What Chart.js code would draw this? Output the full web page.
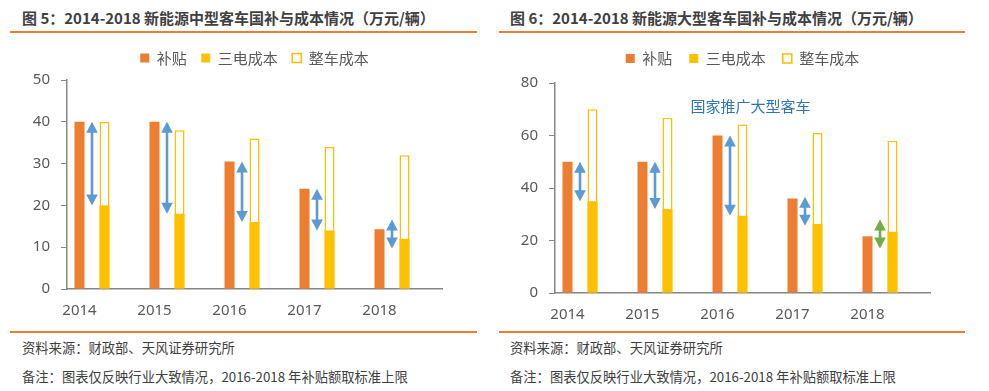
<!DOCTYPE html>
<html>
<head>
<meta charset="utf-8">
<script src="https://cdn.jsdelivr.net/npm/chart.js@4/dist/chart.umd.min.js"></script>
<style>
body { margin: 0; background: #fff; width: 989px; height: 391px; position: relative; overflow: hidden;
  font-family: "Noto Sans CJK SC", "Noto Sans", sans-serif; }
.title { position: absolute; top: 8px; font-size: 15px; font-weight: bold; color: #404040; line-height: 20px; white-space: nowrap; }
.rule { position: absolute; height: 2px; background: #ED7D31; }
.note { position: absolute; font-size: 13.3px; color: #404040; line-height: 18px; white-space: nowrap; }
canvas { position: absolute; }
</style>
</head>
<body>
<div class="title" style="left:22px">图 5：2014-2018 新能源中型客车国补与成本情况（万元/辆）</div>
<div class="rule" style="left:10px;width:467px;top:31px"></div>
<canvas id="graficoMedio" width="490" height="284" style="left:0;top:36px"></canvas>
<div class="rule" style="left:10px;width:467px;top:331px"></div>
<div class="note" style="left:22px;top:339px">资料来源：财政部、天风证券研究所</div>
<div class="note" style="left:22px;top:368px">备注：图表仅反映行业大致情况，2016-2018 年补贴额取标准上限</div>

<div class="title" style="left:510px">图 6：2014-2018 新能源大型客车国补与成本情况（万元/辆）</div>
<div class="rule" style="left:499px;width:466px;top:31px"></div>
<canvas id="graficoGrande" width="494" height="290" style="left:495px;top:34px"></canvas>
<div class="rule" style="left:499px;width:466px;top:331px"></div>
<div class="note" style="left:510px;top:339px">资料来源：财政部、天风证券研究所</div>
<div class="note" style="left:510px;top:368px">备注：图表仅反映行业大致情况，2016-2018 年补贴额取标准上限</div>

<script>
// dados (万元/辆)
const anos = ['2014', '2015', '2016', '2017', '2018']
const nomes = ['补贴', '三电成本', '整车成本']

const medioSubsidio = [40, 40, 30.5, 24, 14.3]
const medioBateria = [20, 18, 16, 14, 12]
const medioVeiculo = [40, 38, 36, 34, 32]

const grandeSubsidio = [50, 50, 60, 36, 21.6]
const grandeBateria = [35, 32, 29.4, 26.3, 23.3]
const grandeVeiculo = [70, 66.8, 64.2, 61, 58]

const notaGrande = '国家推广大型客车'

const cinza = '#868686'
const textoCor = '#595959'

// setas entre o topo do subsidio e o topo da bateria
const setas = {
    id: 'setas',
    afterDatasetsDraw(chart) {
        const ctx = chart.ctx
        const barrasA = chart.getDatasetMeta(0).data
        const barrasB = chart.getDatasetMeta(1).data
        const subs = chart.data.datasets[0].data
        const bat = chart.data.datasets[1].data
        barrasA.forEach((a, i) => {
            const b = barrasB[i]
            const x = (a.x + b.x) / 2
            let topo = Math.min(a.y, b.y)
            let base = Math.max(a.y, b.y)
            if (base - topo < 29) {
                const meio = (topo + base) / 2
                topo = meio - 14.5
                base = meio + 14.5
            }
            const cor = subs[i] < bat[i] ? '#70AD47' : '#5B9BD5'
            ctx.save()
            ctx.strokeStyle = cor
            ctx.fillStyle = cor
            ctx.lineWidth = 2.6
            ctx.beginPath()
            ctx.moveTo(x, topo + 10)
            ctx.lineTo(x, base - 10)
            ctx.stroke()
            ctx.beginPath()
            ctx.moveTo(x, topo)
            ctx.lineTo(x - 5.8, topo + 11)
            ctx.lineTo(x + 5.8, topo + 11)
            ctx.closePath()
            ctx.fill()
            ctx.beginPath()
            ctx.moveTo(x, base)
            ctx.lineTo(x - 5.8, base - 11)
            ctx.lineTo(x + 5.8, base - 11)
            ctx.closePath()
            ctx.fill()
            ctx.restore()
        })
    }
}

const textoNota = {
    id: 'textoNota',
    afterDraw(chart, args, opts) {
        if (!opts.texto) return
        const ctx = chart.ctx
        const x = chart.scales.x.getPixelForValue(2) + 8
        const y = chart.scales.y.getPixelForValue(71)
        ctx.save()
        ctx.font = '15px "Noto Sans CJK SC"'
        ctx.fillStyle = '#2E75B6'
        ctx.textAlign = 'center'
        ctx.textBaseline = 'middle'
        ctx.fillText(opts.texto, x, y)
        ctx.restore()
    }
}

// altura fixa da legenda
const alturaLegenda = {
    id: 'alturaLegenda',
    beforeInit(chart, args, opts) {
        const fitOriginal = chart.legend.fit
        chart.legend.fit = function() {
            fitOriginal.call(this)
            this.height = opts.altura
        }
    }
}

function criarGrafico(id, subsidio, bateria, veiculo, maximo, passo, larguraY, direita, legPad, legAltura, nota) {
    const ctx = document.getElementById(id).getContext('2d')
    return new Chart(ctx, {
        type: 'bar',
        data: {
            labels: anos,
            datasets: [
                {
                    label: nomes[0],
                    data: subsidio,
                    stack: 'a',
                    backgroundColor: '#ED7D31',
                    borderWidth: 0
                },
                {
                    label: nomes[1],
                    data: bateria,
                    stack: 'b',
                    backgroundColor: '#FFC000',
                    borderWidth: 0
                },
                {
                    label: nomes[2],
                    data: veiculo,
                    stack: 'b',
                    backgroundColor: '#FFFFFF',
                    borderColor: '#FFC000',
                    borderWidth: 1.6,
                    borderSkipped: false
                },
                {
                    label: '',
                    data: [],
                    stack: 'c'
                }
            ]
        },
        options: {
            responsive: false,
            maintainAspectRatio: false,
            animation: false,
            layout: { padding: { left: 0, right: direita, top: 0, bottom: 0 } },
            datasets: { bar: { categoryPercentage: 1, barPercentage: 0.4 } },
            plugins: {
                tooltip: { enabled: false },
                textoNota: { texto: nota },
                alturaLegenda: { altura: legAltura },
                legend: {
                    position: 'top',
                    fullSize: false,
                    labels: {
                        boxWidth: 9,
                        boxHeight: 9,
                        padding: legPad,
                        color: textoCor,
                        font: { size: 15, family: '"Noto Sans CJK SC"' },
                        filter: item => item.text !== ''
                    }
                }
            },
            scales: {
                x: {
                    afterFit: (escala) => { escala.height = 31 },
                    grid: { display: false, drawTicks: false },
                    border: { display: true, color: cinza, width: 1.5 },
                    ticks: {
                        color: textoCor,
                        padding: 13,
                        labelOffset: -25,
                        maxRotation: 0,
                        font: { size: 15, family: '"Noto Sans"' }
                    }
                },
                y: {
                    stacked: false,
                    min: 0,
                    max: maximo,
                    afterFit: (escala) => { escala.width = larguraY },
                    grid: { display: true, drawOnChartArea: false, drawTicks: true, tickLength: 6, color: cinza, lineWidth: 1 },
                    border: { display: true, color: cinza, width: 1.5 },
                    ticks: {
                        stepSize: passo,
                        color: textoCor,
                        padding: 11,
                        font: { size: 15, family: '"Noto Sans"' }
                    }
                }
            }
        },
        plugins: [setas, textoNota, alturaLegenda]
    })
}

var graficoMedio = criarGrafico('graficoMedio', medioSubsidio, medioBateria, medioVeiculo, 50, 10, 67, 48, 14.5, 44, '')
var graficoGrande = criarGrafico('graficoGrande', grandeSubsidio, grandeBateria, grandeVeiculo, 80, 20, 60, 59, 17, 49, notaGrande)
</script>
</body>
</html>
